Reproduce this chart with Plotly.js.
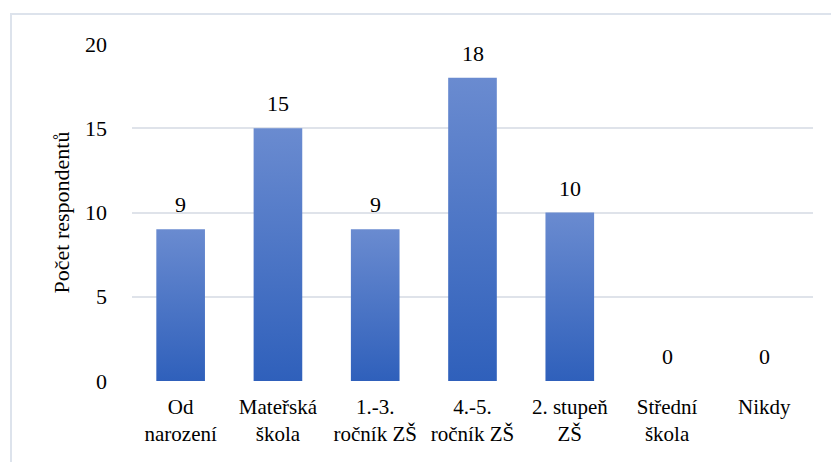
<!DOCTYPE html>
<html>
<head>
<meta charset="utf-8">
<script src="https://cdn.plot.ly/plotly-3.0.1.min.js"></script>
<style>
html,body{margin:0;padding:0;background:#fff;}
#chart{width:831px;height:462px;}
</style>
</head>
<body>
<div id="chart"></div>
<script>
var categories = ["Od<br>narození", "Mateřská<br>škola", "1.-3.<br>ročník ZŠ", "4.-5.<br>ročník ZŠ", "2. stupeň<br>ZŠ", "Střední<br>škola", "Nikdy"];
var values = [9, 15, 9, 18, 10, 0, 0];
var yTicks = [0, 5, 10, 15, 20];
var yTitle = "Počet respondentů";

var font = "Liberation Serif, Times New Roman, serif";

var trace = {
  type: "bar",
  x: categories,
  y: values,
  marker: {color: "#4a74c8", line: {width: 0}},
  hoverinfo: "skip"
};

var labels = categories.map(function (c, i) {
  return {
    x: c, y: values[i], xref: "x", yref: "y",
    text: String(values[i]), showarrow: false,
    yanchor: "bottom", yshift: 10,
    font: {family: font, size: 22, color: "#000"}
  };
});

var layout = {
  width: 831, height: 462,
  margin: {l: 132, r: 18, t: 44, b: 81},
  paper_bgcolor: "#fff", plot_bgcolor: "#fff",
  bargap: 0.5,
  showlegend: false,
  font: {family: font, color: "#000"},
  xaxis: {
    type: "category",
    tickfont: {family: font, size: 21, color: "#000"},
    showgrid: false, zeroline: false, showline: false,
    ticks: "", ticklabelstandoff: 11
  },
  yaxis: {
    range: [0, 20],
    tickvals: yTicks,
    ticktext: yTicks.map(String),
    tickfont: {family: font, size: 22, color: "#000"},
    showgrid: true, gridcolor: "#dfe3ea", gridwidth: 2,
    zeroline: false, showline: false, ticks: "",
    ticklabelstandoff: 24,
    title: {text: yTitle, font: {family: font, size: 22, color: "#000"}, standoff: 9}
  },
  annotations: labels,
  shapes: [{
    type: "rect", xref: "paper", yref: "paper",
    x0: (11 - 132) / 681, x1: (835 - 132) / 681,
    y0: -(470 - 381) / 337, y1: 1 + (44 - 14) / 337,
    line: {color: "#dde3ec", width: 2}, fillcolor: "rgba(0,0,0,0)", layer: "below"
  }]
};

Plotly.newPlot("chart", [trace], layout, {staticPlot: true}).then(function (gd) {
  var svg = gd.querySelector("svg.main-svg");
  var ns = "http://www.w3.org/2000/svg";
  var defs = svg.querySelector("defs") || svg.insertBefore(document.createElementNS(ns, "defs"), svg.firstChild);
  var lg = document.createElementNS(ns, "linearGradient");
  lg.setAttribute("id", "barGrad");
  lg.setAttribute("x1", "0"); lg.setAttribute("y1", "0");
  lg.setAttribute("x2", "0"); lg.setAttribute("y2", "1");
  var s1 = document.createElementNS(ns, "stop");
  s1.setAttribute("offset", "0"); s1.setAttribute("stop-color", "#6a8bd0");
  var s2 = document.createElementNS(ns, "stop");
  s2.setAttribute("offset", "1"); s2.setAttribute("stop-color", "#2f60bb");
  lg.appendChild(s1); lg.appendChild(s2);
  defs.appendChild(lg);
  gd.querySelectorAll(".bars .point path").forEach(function (p) {
    p.style.fill = "url(#barGrad)";
  });
});
</script>
</body>
</html>
